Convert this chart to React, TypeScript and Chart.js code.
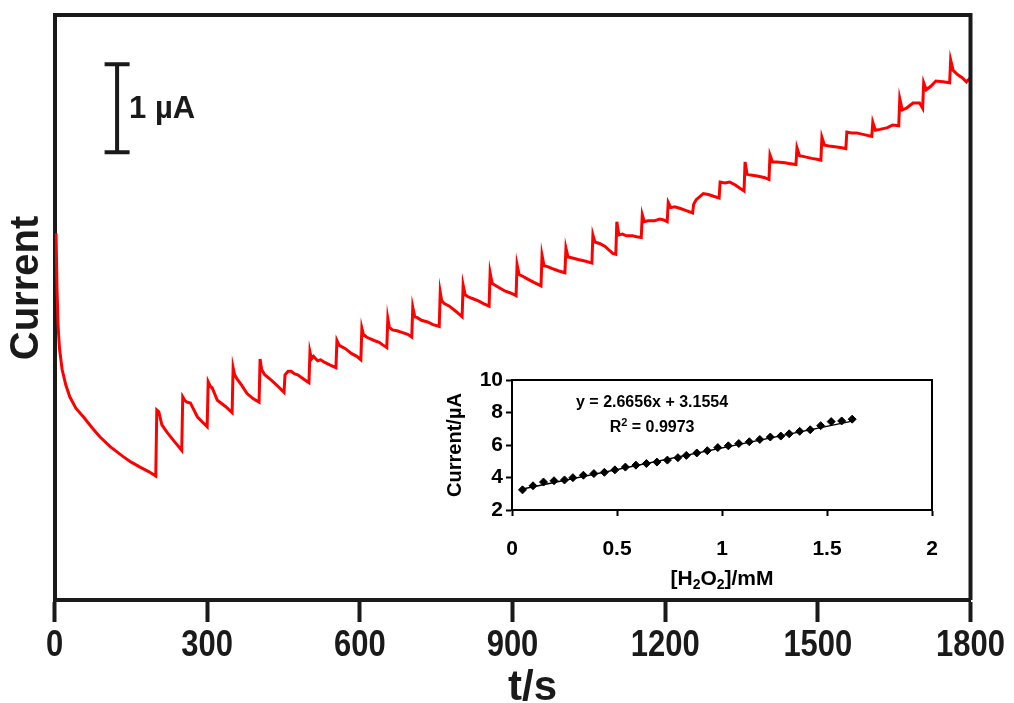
import React, { useEffect, useRef } from 'react';
import { Chart, registerables } from 'chart.js';

Chart.register(...registerables);

// ---------- main amperometric trace (t in s, current in µA) ----------
const timeS: number[] = [
  3, 5, 7, 10, 15, 22, 30, 42, 57, 75, 90, 110, 135, 150, 168, 185, 199,
  201, 205, 211, 222, 233, 250,
  252, 256, 260, 267, 281, 291, 300,
  302, 306, 310, 320, 336, 349,
  351, 354, 358, 368, 378, 390, 402,
  404, 407, 413, 426, 439, 451,
  453, 459, 465, 472, 478, 490, 500,
  502, 505, 509, 517, 523, 531, 542, 553,
  555, 559, 564, 571, 584, 594, 602,
  604, 607, 613, 620, 628, 638, 645, 653,
  655, 658, 664, 673, 684, 694, 702,
  704, 708, 713, 721, 733, 744, 756,
  758, 761, 766, 776, 789, 795, 801,
  803, 807, 812, 820, 833, 843, 854,
  856, 860, 865, 874, 886, 896, 907,
  909, 913, 920, 929, 942, 956,
  958, 962, 969, 977, 991, 1003,
  1005, 1009, 1016, 1029, 1044, 1056,
  1058, 1062, 1072, 1082, 1091, 1097, 1103,
  1105, 1109, 1116, 1124, 1136, 1144, 1153,
  1155, 1159, 1166, 1179, 1189, 1197, 1204,
  1206, 1211, 1219, 1230, 1240, 1254,
  1256, 1261, 1267, 1275, 1285, 1295, 1306,
  1308, 1317, 1327, 1337, 1347, 1355,
  1357, 1361, 1368, 1381, 1396, 1404,
  1406, 1411, 1420, 1435, 1446, 1457,
  1459, 1464, 1473, 1488, 1498, 1506,
  1508, 1513, 1522, 1537, 1547, 1555,
  1557, 1566, 1576, 1591, 1606,
  1608, 1613, 1622, 1637, 1647, 1659,
  1661, 1666, 1674, 1687, 1700, 1706,
  1708, 1713, 1722, 1732, 1746, 1759,
  1761, 1766, 1775, 1783, 1792, 1797, 1800,
];

const currentUA: number[] = [
  4.17, 3.52, 3.12, 2.85, 2.62, 2.45, 2.31, 2.18, 2.08, 1.95, 1.85, 1.74, 1.63, 1.57, 1.51, 1.46, 1.41,
  2.16, 2.14, 1.99, 1.9, 1.82, 1.7,
  2.31, 2.27, 2.25, 2.24, 2.08, 2.02, 1.97,
  2.48, 2.43, 2.41, 2.27, 2.2, 2.13,
  2.64, 2.56, 2.52, 2.44, 2.35, 2.29, 2.25,
  2.74, 2.62, 2.56, 2.5, 2.43, 2.36,
  2.56, 2.6, 2.6, 2.57, 2.56, 2.51, 2.47,
  2.82, 2.74, 2.77, 2.72, 2.73, 2.7, 2.67, 2.64,
  2.95, 2.9, 2.88, 2.86, 2.8, 2.77, 2.73,
  3.09, 3.02, 2.99, 2.97, 2.95, 2.93, 2.9, 2.87,
  3.2, 3.1, 3.07, 3.06, 3.04, 3.02, 2.99,
  3.33, 3.22, 3.21, 3.18, 3.16, 3.13, 3.11,
  3.5, 3.4, 3.37, 3.34, 3.28, 3.25, 3.22,
  3.58, 3.47, 3.45, 3.43, 3.4, 3.37, 3.34,
  3.72, 3.6, 3.58, 3.55, 3.51, 3.49, 3.46,
  3.81, 3.7, 3.68, 3.65, 3.61, 3.57,
  3.92, 3.8, 3.79, 3.77, 3.74, 3.72,
  4.0, 3.9, 3.89, 3.87, 3.85, 3.83,
  4.15, 4.07, 4.05, 4.02, 3.97, 3.94, 3.93,
  4.3, 4.15, 4.16, 4.14, 4.14, 4.13, 4.12,
  4.38, 4.3, 4.31, 4.31, 4.33, 4.32, 4.3,
  4.52, 4.46, 4.47, 4.45, 4.43, 4.4,
  4.5, 4.55, 4.58, 4.62, 4.61, 4.59, 4.57,
  4.75, 4.74, 4.75, 4.72, 4.68, 4.65,
  4.98, 4.84, 4.83, 4.82, 4.8, 4.78,
  5.06, 4.98, 4.98, 4.97, 4.96, 4.95,
  5.14, 5.05, 5.04, 5.02, 5.01, 5.0,
  5.26, 5.17, 5.16, 5.15, 5.14, 5.13,
  5.32, 5.31, 5.31, 5.29, 5.27,
  5.43, 5.34, 5.35, 5.37, 5.4, 5.39,
  5.7, 5.57, 5.59, 5.65, 5.65, 5.59,
  5.88, 5.8, 5.84, 5.9, 5.89, 5.88,
  6.14, 6.02, 5.97, 5.94, 5.89, 5.92, 5.9,
];

const xTickStep = 300;
const xMin = 0;
const xMax = 1800;
const yMinUA = 0;
const yMaxUA = 6.65;
const xAxisTitle = 't/s';
const yAxisTitle = 'Current';

// scale bar (1 µA)
const scaleBarTime = 123;
const scaleBarBottomUA = 5.09;
const scaleBarSizeUA = 1;
const scaleBarLabel = '1 µA';

// ---------- inset calibration plot ----------
const insetConcMM: number[] = [
  0.05, 0.1, 0.15, 0.2, 0.25, 0.29, 0.34, 0.39, 0.44, 0.49, 0.54, 0.59, 0.64, 0.69, 0.74, 0.79, 0.83,
  0.88, 0.93, 0.98, 1.03, 1.08, 1.13, 1.18, 1.23, 1.28, 1.32, 1.37, 1.42, 1.47, 1.52, 1.57, 1.62,
];
const insetCurrentUA: number[] = [
  3.24, 3.49, 3.72, 3.8, 3.85, 3.99, 4.14, 4.24, 4.32, 4.47, 4.64, 4.76, 4.86, 4.95, 5.07, 5.22, 5.36,
  5.51, 5.65, 5.84, 5.95, 6.09, 6.2, 6.34, 6.49, 6.55, 6.69, 6.84, 6.94, 7.19, 7.44, 7.48, 7.59,
];
const fitLineX: number[] = [0.05, 1.62];
const fitLineY: number[] = [3.29, 7.47];
const equationText = 'y = 2.6656x + 3.1554';
const r2Text = ' = 0.9973';

const BOLD = '"Liberation Sans", Arial, Helvetica, sans-serif';
const INK = '#1a1a1a';

function drawRich(ctx: CanvasRenderingContext2D, parts: { t: string; s?: 'sub' | 'sup' }[], cx: number, cy: number, size: number) {
  const small = Math.round(size * 0.68);
  const widths = parts.map((p) => {
    ctx.font = `bold ${p.s ? small : size}px ${BOLD}`;
    return ctx.measureText(p.t).width;
  });
  const total = widths.reduce((a, b) => a + b, 0);
  let x = cx - total / 2;
  ctx.textAlign = 'left';
  ctx.textBaseline = 'middle';
  parts.forEach((p, i) => {
    ctx.font = `bold ${p.s ? small : size}px ${BOLD}`;
    let y = cy;
    if (p.s === 'sub') y = cy + size * 0.28;
    if (p.s === 'sup') y = cy - size * 0.32;
    ctx.fillText(p.t, x, y);
    x += widths[i];
  });
}

export default function App() {
  const mainRef = useRef<HTMLCanvasElement>(null);
  const insetRef = useRef<HTMLCanvasElement>(null);

  useEffect(() => {
    const mainData = timeS.map((t, i) => ({ x: t, y: currentUA[i] }));

    const framePlugin = {
      id: 'frame',
      afterDraw(chart: any) {
        const { ctx, chartArea: a } = chart;
        const xs = chart.scales.x;
        ctx.save();
        ctx.strokeStyle = INK;
        ctx.lineWidth = 4;
        ctx.beginPath();
        ctx.moveTo(a.left, a.top);
        ctx.lineTo(a.right, a.top);
        ctx.lineTo(a.right, a.bottom);
        ctx.stroke();
        ctx.fillStyle = INK;
        // condensed tick labels, taken from the x scale's own ticks
        ctx.font = `bold 36px ${BOLD}`;
        ctx.textAlign = 'center';
        ctx.textBaseline = 'middle';
        xs.ticks.forEach((t: any) => {
          const px = xs.getPixelForValue(t.value);
          ctx.save();
          ctx.translate(px, a.bottom + 46);
          ctx.scale(0.86, 1);
          ctx.fillText(String(t.value), 0, 0);
          ctx.restore();
        });
        // axis titles
        ctx.font = `bold 42px ${BOLD}`;
        ctx.fillText(xAxisTitle, (a.left + a.right) / 2 + 20, 688);
        ctx.save();
        ctx.translate(27, 288);
        ctx.rotate(-Math.PI / 2);
        ctx.font = `bold 40px ${BOLD}`;
        ctx.fillText(yAxisTitle, 0, 0);
        ctx.restore();
        ctx.restore();
      },
    };

    const scaleBarPlugin = {
      id: 'scaleBar',
      afterDatasetsDraw(chart: any) {
        const { ctx } = chart;
        const xs = chart.scales.x;
        const ys = chart.scales.y;
        const xc = xs.getPixelForValue(scaleBarTime);
        const yb = ys.getPixelForValue(scaleBarBottomUA);
        const yt = ys.getPixelForValue(scaleBarBottomUA + scaleBarSizeUA);
        ctx.save();
        ctx.strokeStyle = INK;
        ctx.lineWidth = 4;
        ctx.beginPath();
        ctx.moveTo(xc, yt);
        ctx.lineTo(xc, yb);
        ctx.moveTo(xc - 12.5, yt);
        ctx.lineTo(xc + 12.5, yt);
        ctx.moveTo(xc - 12.5, yb);
        ctx.lineTo(xc + 12.5, yb);
        ctx.stroke();
        ctx.fillStyle = INK;
        ctx.font = `bold 31px ${BOLD}`;
        ctx.textAlign = 'left';
        ctx.textBaseline = 'middle';
        ctx.fillText(scaleBarLabel, xc + 12, (yt + yb) / 2 + 1);
        ctx.restore();
      },
    };

    const main = new Chart(mainRef.current as HTMLCanvasElement, {
      type: 'line',
      data: {
        datasets: [
          {
            data: mainData,
            borderColor: '#ff0000',
            borderWidth: 3,
            pointRadius: 0,
            tension: 0,
            fill: false,
          },
        ],
      },
      options: {
        animation: false,
        responsive: false,
        maintainAspectRatio: false,
        layout: { padding: { top: 15, right: 43.5, left: 0, bottom: 0 } },
        plugins: { legend: { display: false }, tooltip: { enabled: false } },
        scales: {
          x: {
            type: 'linear',
            min: xMin,
            max: xMax,
            afterFit: (s: any) => {
              s.height = 120;
              s.paddingLeft = 0;
              s.paddingRight = 0;
            },
            ticks: {
              stepSize: xTickStep,
              autoSkip: false,
              maxRotation: 0,
              display: false,
            },
            grid: { display: true, drawOnChartArea: false, drawTicks: true, tickLength: 22, tickWidth: 4, tickColor: INK },
            border: { display: true, width: 4, color: INK },
            title: { display: false },
          },
          y: {
            type: 'linear',
            min: yMinUA,
            max: yMaxUA,
            afterFit: (s: any) => {
              s.width = 54.5;
            },
            ticks: { display: false },
            grid: { display: false },
            border: { display: true, width: 4, color: INK },
            title: { display: false },
          },
        },
      } as any,
      plugins: [framePlugin, scaleBarPlugin],
    });

    const insetFrame = {
      id: 'insetFrame',
      afterDraw(chart: any) {
        const { ctx, chartArea: a } = chart;
        const xs = chart.scales.x;
        const ys = chart.scales.y;
        ctx.save();
        ctx.strokeStyle = '#000';
        ctx.lineWidth = 2;
        ctx.beginPath();
        ctx.moveTo(a.left, a.top);
        ctx.lineTo(a.right, a.top);
        ctx.lineTo(a.right, a.bottom);
        ctx.stroke();
        ctx.fillStyle = '#000';
        drawRich(
          ctx,
          [{ t: '[H' }, { t: '2', s: 'sub' }, { t: 'O' }, { t: '2', s: 'sub' }, { t: ']/mM' }],
          (a.left + a.right) / 2,
          a.bottom + 69,
          21
        );
        const ex = xs.getPixelForValue(0.667);
        drawRich(ctx, [{ t: equationText }], ex, ys.getPixelForValue(8.58), 16);
        drawRich(ctx, [{ t: 'R' }, { t: '2', s: 'sup' }, { t: r2Text }], ex, ys.getPixelForValue(7.05), 16);
        ctx.restore();
      },
    };

    const inset = new Chart(insetRef.current as HTMLCanvasElement, {
      type: 'scatter',
      data: {
        datasets: [
          {
            type: 'line',
            data: fitLineX.map((x, i) => ({ x, y: fitLineY[i] })),
            borderColor: '#000',
            borderWidth: 1.5,
            pointRadius: 0,
            tension: 0,
            fill: false,
            order: 2,
          },
          {
            data: insetConcMM.map((x, i) => ({ x, y: insetCurrentUA[i] })),
            pointStyle: 'rectRot',
            pointRadius: 4,
            backgroundColor: '#000',
            borderColor: '#000',
            borderWidth: 1,
            showLine: false,
            order: 1,
          },
        ],
      },
      options: {
        animation: false,
        responsive: false,
        maintainAspectRatio: false,
        layout: { padding: { top: 20, right: 48, left: 0, bottom: 0 } },
        plugins: { legend: { display: false }, tooltip: { enabled: false } },
        scales: {
          x: {
            type: 'linear',
            min: 0,
            max: 2,
            afterFit: (s: any) => {
              s.height = 90;
            },
            ticks: {
              stepSize: 0.5,
              autoSkip: false,
              maxRotation: 0,
              padding: 21,
              color: '#000',
              callback: (v: any) => String(v),
              font: { family: BOLD, weight: 'bold', size: 21 },
            },
            grid: { display: true, drawOnChartArea: false, tickLength: 6, tickWidth: 2, tickColor: '#000' },
            border: { display: true, width: 2, color: '#000' },
          },
          y: {
            type: 'linear',
            min: 2,
            max: 10,
            afterFit: (s: any) => {
              s.width = 92;
            },
            ticks: {
              stepSize: 2,
              padding: 3,
              color: '#000',
              font: { family: BOLD, weight: 'bold', size: 21 },
            },
            grid: { display: true, drawOnChartArea: false, tickLength: 6, tickWidth: 2, tickColor: '#000' },
            border: { display: true, width: 2, color: '#000' },
            title: {
              display: true,
              text: 'Current/µA',
              color: '#000',
              font: { family: BOLD, weight: 'bold', size: 20, lineHeight: 1.2 },
              padding: { top: 23, bottom: 0 },
            },
          },
        },
      } as any,
      plugins: [insetFrame],
    });

    return () => {
      main.destroy();
      inset.destroy();
    };
  }, []);

  return (
    <div style={{ position: 'fixed', left: 0, top: 0, width: 1014, height: 703, overflow: 'hidden', background: '#fff' }}>
      <canvas
        ref={mainRef}
        width={1014}
        height={720}
        style={{ position: 'absolute', left: 0, top: 0, width: 1014, height: 720 }}
      />
      <canvas
        ref={insetRef}
        width={560}
        height={240}
        style={{ position: 'absolute', left: 420, top: 360, width: 560, height: 240 }}
      />
    </div>
  );
}
